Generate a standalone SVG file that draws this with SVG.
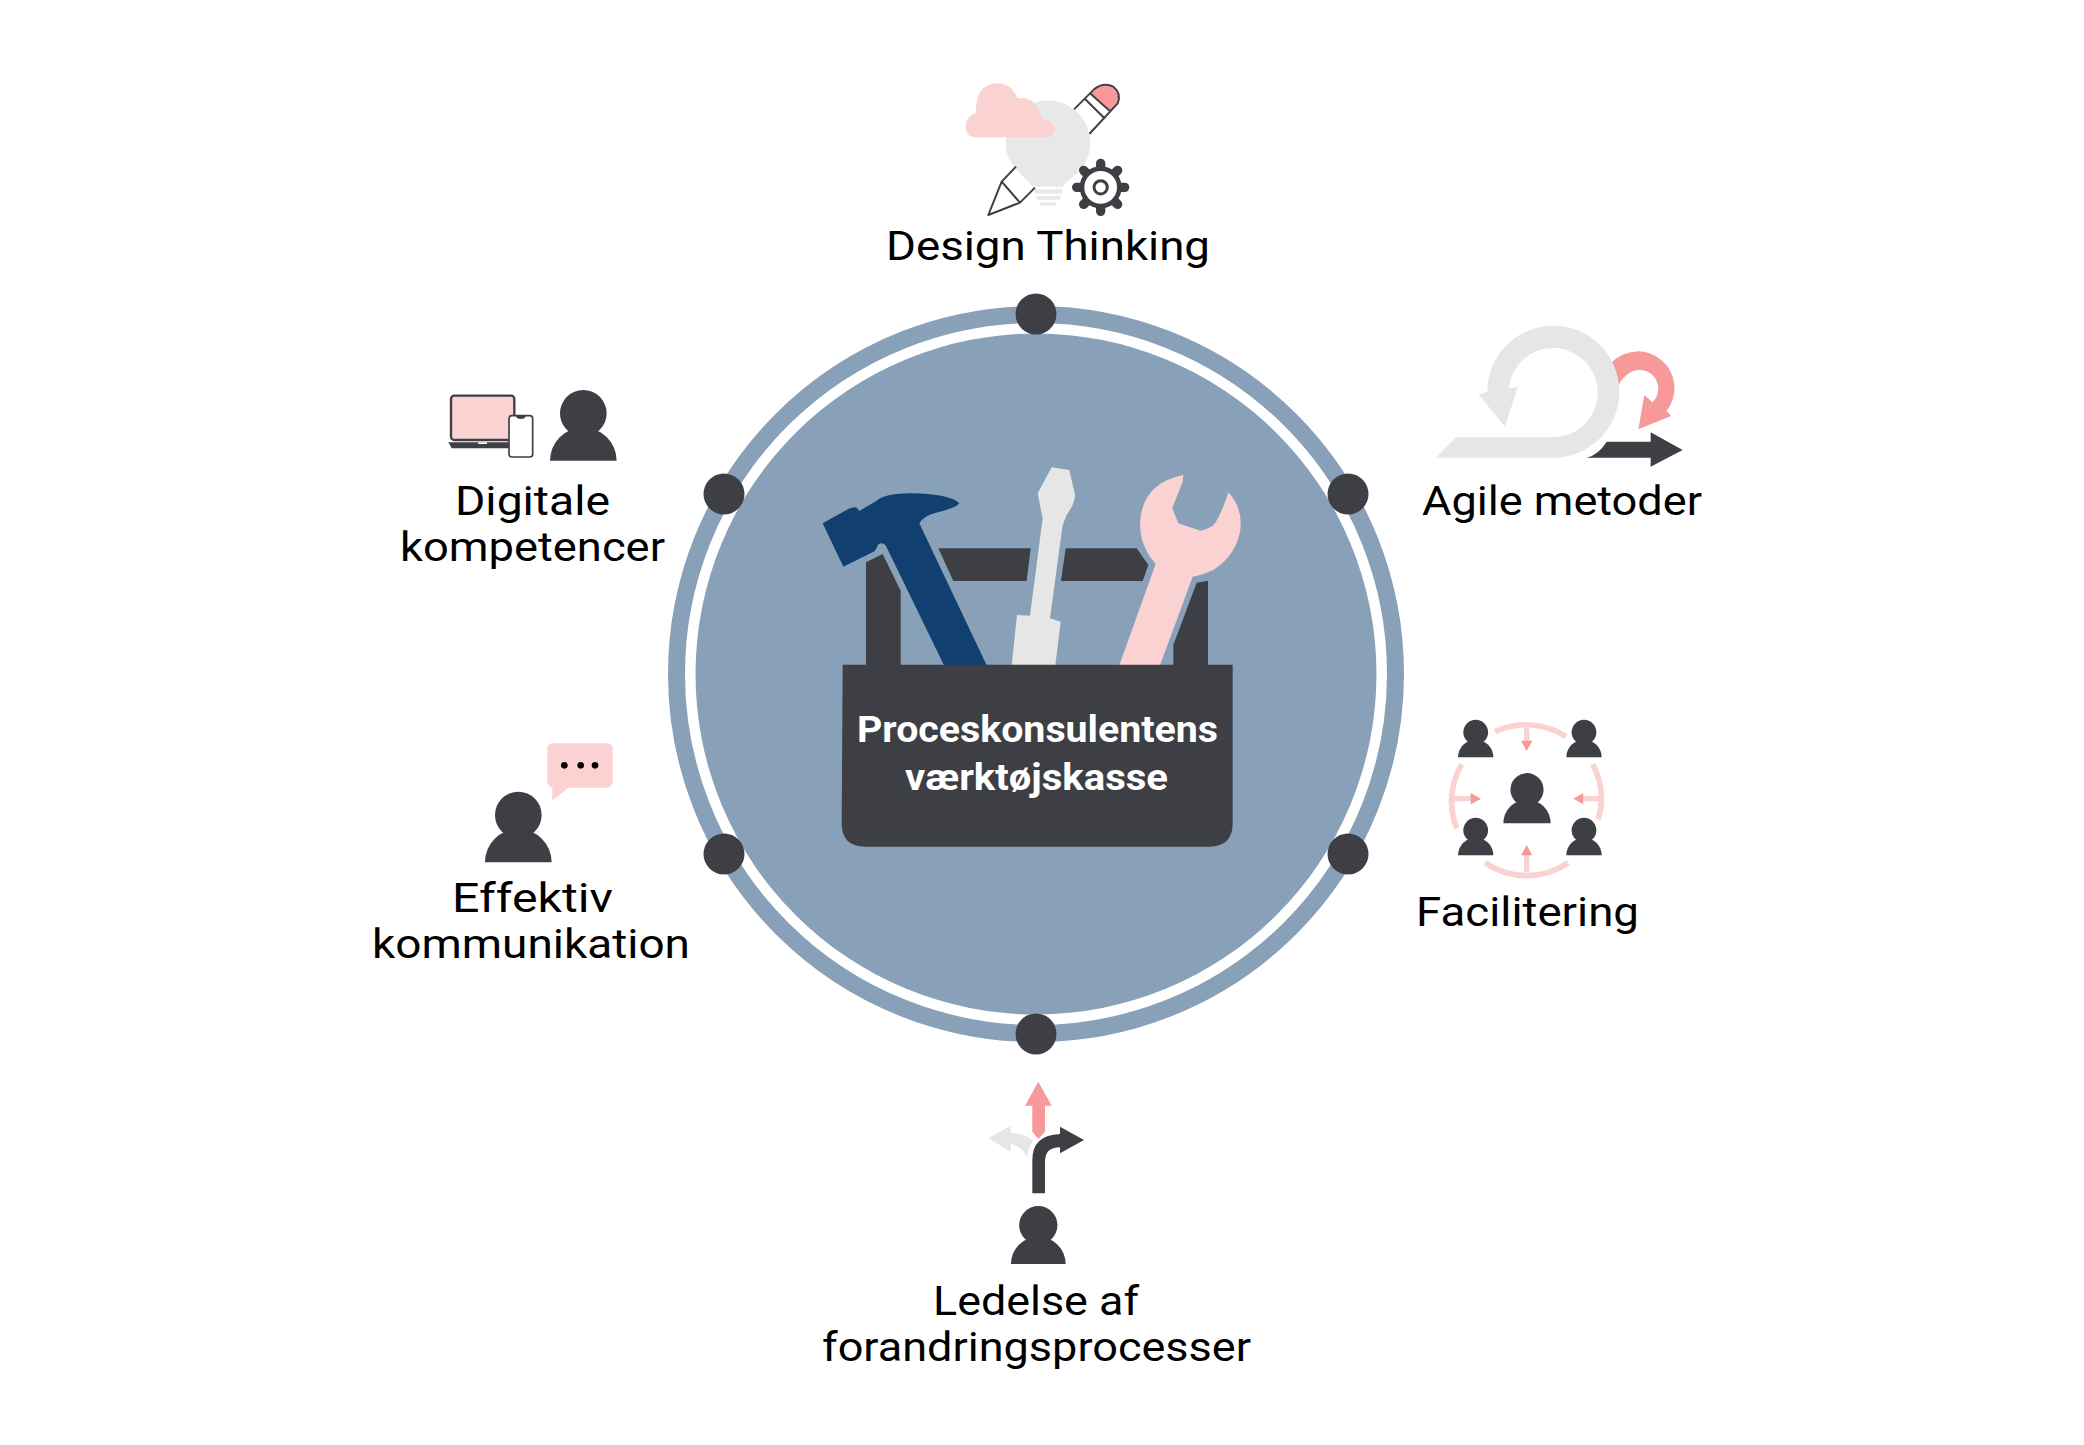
<svg xmlns="http://www.w3.org/2000/svg" xmlns:xlink="http://www.w3.org/1999/xlink" width="2084" height="1445" viewBox="0 0 2084 1445">
<style>
.lbl{font-family:"Roboto","Liberation Sans",sans-serif;font-size:40px;fill:#000;text-anchor:start}
.title{font-family:"Roboto","Liberation Sans",sans-serif;font-size:37px;font-weight:700;fill:#fff}
.d{fill:#3e3f45}.p{fill:#fbd2d2}.s{fill:#f79999}.g{fill:#e6e6e6}.b{fill:#e7e9e8}.n{fill:#113f70}
.ol{fill:none;stroke:#3e3f45;stroke-width:6;stroke-linejoin:round}
.arc{fill:none;stroke:#fbd2d2;stroke-width:17}
.shaft{fill:none;stroke:#fbd2d2;stroke-width:16}
.teeth{fill:none;stroke:#3e3f45;stroke-width:28;stroke-linecap:round}
</style>
<defs>
<g id="person"><circle cx="0" cy="-142" r="70"/><path d="M-100 0A100 100 0 0 1 100 0Z"/></g>
</defs>
<rect width="2084" height="1445" fill="#fff"/>
<g id="hub">
<circle cx="1036" cy="674" r="359.5" fill="none" stroke="#88a0b8" stroke-width="17"/>
<circle cx="1036" cy="674" r="340.5" fill="#88a0b8"/>
</g>
<g id="toolbox">
<g transform="translate(780 440) scale(.33333)">
<path class="d" d="M475 325H752L740 423H520Z"/>
<path class="d" d="M857 325H1070L1105 375L1088 423H843Z"/>
<path class="d" d="M258 367L308 342L362 452V680H258Z"/>
<path class="d" d="M1284 422L1250 428L1180 615V680H1284Z"/>
<path class="n" d="M128 250L205 207Q225 198 232 205L238 213L290 182Q320 160 390 160Q510 162 538 190Q530 202 490 212Q430 225 418 250L620 676H492L318 318Q310 305 295 313L285 333L190 380Z"/>
<path class="g" d="M815 82L868 90L885 165Q885 190 860 225L848 255L810 535L842 545L826 676H695L711 525L750 527L788 235L773 160Z"/>
<path class="p" d="M1210 105L1208 125L1177 205L1195 250L1262 272Q1295 265 1305 250Q1325 220 1345 157Q1385 200 1382 260Q1375 340 1300 390Q1265 405 1238 410L1140 676H1018L1127 372Q1080 320 1080 250Q1085 130 1210 105Z"/>
<path class="d" d="M188 674H1358V1150Q1358 1220 1288 1220H255Q185 1220 185 1150Z"/>
</g>
<text class="title" x="857" y="742" textLength="361" lengthAdjust="spacingAndGlyphs">Proceskonsulentens</text>
<text class="title" x="905" y="790" textLength="263" lengthAdjust="spacingAndGlyphs">værktøjskasse</text>
</g>
<g id="dots" class="d">
<circle cx="1036" cy="314" r="20.5"/>
<circle cx="1348" cy="494" r="20.5"/>
<circle cx="1348" cy="854" r="20.5"/>
<circle cx="1036" cy="1034" r="20.5"/>
<circle cx="724" cy="854" r="20.5"/>
<circle cx="724" cy="494" r="20.5"/>
</g>
<g id="design-thinking">
<g transform="translate(870 60) scale(.33333)">
<path class="s" d="M668 92Q700 68 728 82Q752 100 741 128L722 152L660 98Z"/>
<path class="ol" d="M612 148L672 88Q700 65 730 80Q755 100 743 130L658 222M645 117L705 176M660 100L722 155"/>
<path class="b" d="M445 335Q407 300 407 250A127 127 0 1 1 625 337Q590 365 578 380H490Q470 360 445 335Z"/>
<path class="p" d="M310 232Q285 225 287 195Q292 165 318 158Q315 75 380 70Q425 70 442 115Q500 108 515 175Q555 185 555 210Q550 232 530 232Z"/>
<rect class="b" x="492" y="388" width="86" height="13" rx="6"/><rect class="b" x="498" y="408" width="74" height="11" rx="5"/><rect class="b" x="510" y="427" width="50" height="10" rx="5"/>
<path class="ol" d="M438 320L395 365L355 465L450 428L495 383M395 365L450 428"/>
<path class="teeth" d="M692 310V325M692 454V439M620 382H635M764 382H749M641 331L652 342M743 331L732 342M641 433L652 422M743 433L732 422"/>
<circle cx="692" cy="382" r="56" fill="#fff" stroke="#3e3f45" stroke-width="14"/>
<circle cx="692" cy="382" r="20" fill="none" stroke="#3e3f45" stroke-width="9"/>
</g>
<text class="lbl" x="886" y="260" textLength="324" lengthAdjust="spacingAndGlyphs">Design Thinking</text>
</g>
<g id="agile">
<g transform="translate(1400 300) scale(.33333)">
<path class="s" d="M635 187A110 110 0 0 1 800 332L813 348L715 388L733 285L757 307A48 48 0 0 0 680 225Q662 240 650 265Z"/>
<path class="d" d="M560 473Q595 465 620 425H752V397L848 450L752 500V473Z"/>
<path class="g" d="M108 473L168 412H460A134 134 0 1 0 326 265L353 262L315 380L235 283L262 275A198 198 0 1 1 460 473Z"/>
</g>
<text class="lbl" x="1422" y="515" textLength="280" lengthAdjust="spacingAndGlyphs">Agile metoder</text>
</g>
<g id="facilitering">
<g transform="translate(1420 700) scale(.33333)">
<path class="arc" d="M225 95A220 220 0 0 1 438 110M125 193A220 220 0 0 0 110 385M518 193A220 220 0 0 1 535 358M195 488A220 220 0 0 0 445 488"/>
<path class="shaft" d="M320 85V125M100 296H155M540 296H490M320 515V465"/>
<path class="s" d="M303 122H337L320 153ZM152 279L183 296L152 313ZM490 279L460 296L490 313ZM303 466H337L320 435Z"/>
</g>
<g class="d">
<use href="#person" transform="translate(1527 823.3) scale(.2367)"/>
<use href="#person" transform="translate(1475.7 757.3) scale(.1767)"/>
<use href="#person" transform="translate(1584 757.3) scale(.1767)"/>
<use href="#person" transform="translate(1475.7 855.3) scale(.1767)"/>
<use href="#person" transform="translate(1584 855.3) scale(.1767)"/>
</g>
<text class="lbl" x="1416" y="926" textLength="223" lengthAdjust="spacingAndGlyphs">Facilitering</text>
</g>
<g id="forandring">
<g transform="translate(950 1060) scale(.33333)">
<path class="s" d="M265 65L305 137H285V215L265 237L247 215V137H225Z"/>
<path class="g" d="M115 235L182 197V218Q225 220 250 243Q232 260 232 295Q225 265 182 252V275Z"/>
<path class="d" d="M247 400V300Q247 225 330 222V200L402 240L330 280V262Q285 262 285 305V400Z"/>
</g>
<use class="d" href="#person" transform="translate(1038.3 1264) scale(.2733)"/>
<text class="lbl" x="933" y="1315" textLength="206" lengthAdjust="spacingAndGlyphs">Ledelse af</text>
<text class="lbl" x="822" y="1361" textLength="429" lengthAdjust="spacingAndGlyphs">forandringsprocesser</text>
</g>
<g id="kommunikation">
<g transform="translate(470 730) scale(.33333)">
<rect class="p" x="232" y="40" width="196" height="133" rx="16"/>
<path class="p" d="M247 165V213L298 170Z"/>
<circle cx="283" cy="106" r="10"/><circle cx="332" cy="106" r="10"/><circle cx="375" cy="106" r="10"/>
</g>
<use class="d" href="#person" transform="translate(518.3 862.3) scale(.33333)"/>
<text class="lbl" x="452" y="912" textLength="161" lengthAdjust="spacingAndGlyphs">Effektiv</text>
<text class="lbl" x="372" y="958" textLength="318" lengthAdjust="spacingAndGlyphs">kommunikation</text>
</g>
<g id="digitale">
<g transform="translate(430 380) scale(.33333)">
<rect class="p" x="63" y="47" width="190" height="133" rx="10" stroke="#3e3f45" stroke-width="7"/>
<path class="d" d="M55 187H240V205H65Z"/>
<rect x="145" y="187" width="26" height="5" fill="#fff"/>
<rect x="237" y="107" width="71" height="124" rx="9" fill="#fff" stroke="#3e3f45" stroke-width="5"/>
<path class="d" d="M257 107H288Q285 117 272 117Q260 117 257 107Z"/>
</g>
<use class="d" href="#person" transform="translate(583.3 460.7) scale(.33333)"/>
<text class="lbl" x="455" y="515" textLength="155" lengthAdjust="spacingAndGlyphs">Digitale</text>
<text class="lbl" x="400" y="561" textLength="265" lengthAdjust="spacingAndGlyphs">kompetencer</text>
</g>
</svg>
